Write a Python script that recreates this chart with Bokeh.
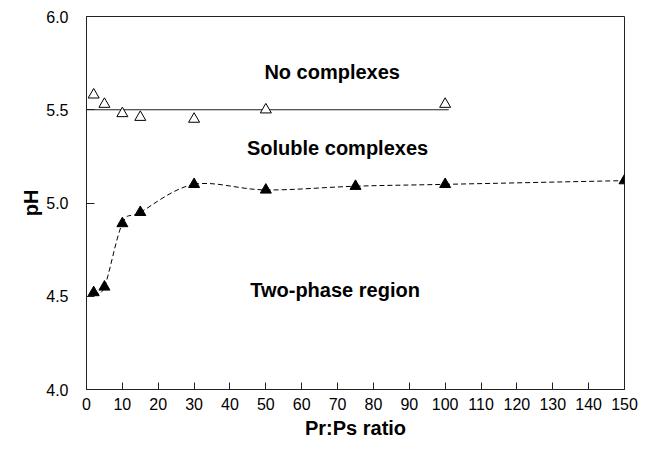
from bokeh.plotting import figure
from bokeh.models import Range1d, FixedTicker, NumeralTickFormatter, ColumnDataSource
from bokeh.core.properties import value
from bokeh.embed import file_html
from bokeh.resources import INLINE

# --- data ---
ratio_open = [2, 5, 10, 15, 30, 50, 100]
ph_open = [5.58, 5.53, 5.48, 5.46, 5.45, 5.50, 5.53]

ratio_filled = [2, 5, 10, 15, 30, 50, 75, 100, 150]
ph_filled = [4.52, 4.55, 4.89, 4.95, 5.10, 5.07, 5.09, 5.10, 5.12]

boundary_x = [0, 101]
boundary_ph = [5.5, 5.5]

x_ticks = list(range(0, 151, 10))
y_ticks = [4.0, 4.5, 5.0, 5.5, 6.0]

labels = ["No complexes", "Soluble complexes", "Two-phase region"]
label_x = [68.5, 70.0, 69.3]
label_y = [5.705, 5.295, 4.535]

FONT = "Liberation Sans"

p = figure(width=638, height=441, output_backend="svg", toolbar_location=None,
           x_range=Range1d(0, 150), y_range=Range1d(4.0, 6.0),
           min_border_left=86, min_border_right=14, min_border_top=16, min_border_bottom=50)
p.grid.visible = False
p.background_fill_color = "white"
p.border_fill_color = "white"
p.outline_line_color = "#222222"
p.outline_line_width = 1

for ax in (p.xaxis[0], p.yaxis[0]):
    ax.axis_line_color = "#222222"
    ax.major_tick_line_color = "#222222"
    ax.minor_tick_line_color = None
    ax.major_tick_out = 0
    ax.major_label_text_font = FONT
    ax.major_label_text_font_size = "16px"
    ax.major_label_text_color = "black"
    ax.axis_label_text_font = FONT
    ax.axis_label_text_font_size = "20px"
    ax.axis_label_text_font_style = "bold"
    ax.axis_label_text_color = "black"

p.xaxis.ticker = FixedTicker(ticks=x_ticks)
p.xaxis.major_tick_in = 7
p.xaxis.major_label_standoff = 8
p.xaxis.axis_label = "Pr:Ps ratio"
p.xaxis.axis_label_standoff = 4

p.yaxis.ticker = FixedTicker(ticks=y_ticks)
p.yaxis.formatter = NumeralTickFormatter(format="0.0")
p.yaxis.major_tick_in = 8
p.yaxis.major_label_standoff = 18
p.yaxis.axis_label = "pH"
p.yaxis.axis_label_standoff = 1

p.line(boundary_x, boundary_ph, line_color="#222222", line_width=1.2)

n = len(ratio_filled)
x0, y0, x1, y1, cx0, cy0, cx1, cy1 = [], [], [], [], [], [], [], []
for i in range(n - 1):
    im = max(i - 1, 0)
    ip2 = min(i + 2, n - 1)
    xa, ya = ratio_filled[i], ph_filled[i]
    xb, yb = ratio_filled[i + 1], ph_filled[i + 1]
    x0.append(xa); y0.append(ya); x1.append(xb); y1.append(yb)
    cx0.append(xa + (xb - ratio_filled[im]) / 6.0)
    cy0.append(ya + (yb - ph_filled[im]) / 6.0)
    cx1.append(xb - (ratio_filled[ip2] - xa) / 6.0)
    cy1.append(yb - (ph_filled[ip2] - ya) / 6.0)
p.bezier(x0=x0, y0=y0, x1=x1, y1=y1, cx0=cx0, cy0=cy0, cx1=cx1, cy1=cy1,
         line_color="black", line_width=1, line_dash="5 3")

p.scatter(ratio_open, ph_open, marker="triangle", size=11,
          fill_color="white", line_color="black", line_width=1)
p.scatter(ratio_filled, ph_filled, marker="triangle", size=11,
          fill_color="black", line_color="black", line_width=1)

src = ColumnDataSource(dict(x=label_x, y=label_y, t=labels))
p.text(x="x", y="y", text="t", source=src, text_align="center", text_baseline="middle",
       text_font=value(FONT), text_font_size="20px", text_font_style="bold", text_color="black")

open("out.html", "w").write(file_html(p, INLINE))
